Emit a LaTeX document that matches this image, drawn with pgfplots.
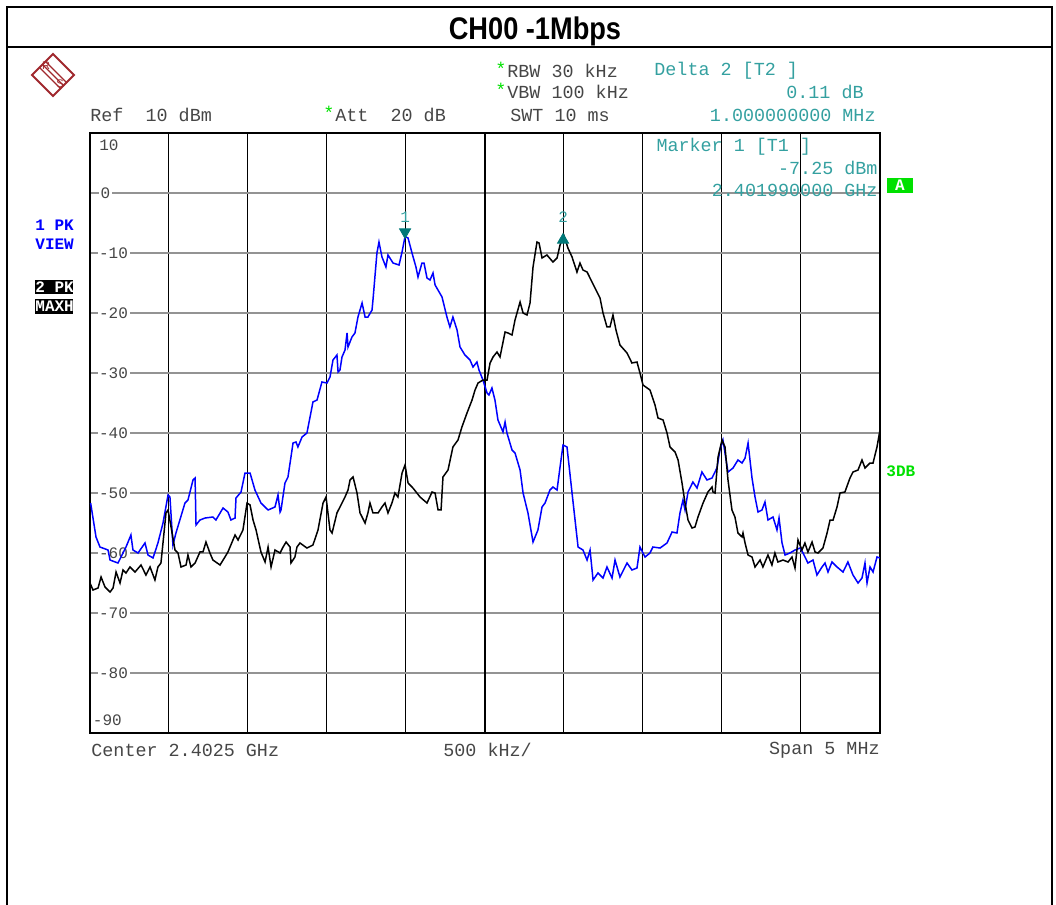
\documentclass[border=0pt]{standalone}
\usepackage{pgfplots}
\pgfplotsset{compat=1.18}
\usepackage{fontspec}
\newfontfamily\mono{Liberation Mono}
\newfontfamily\sans{Liberation Sans}
\definecolor{tealtxt}{RGB}{52,160,160}
\definecolor{tealmk}{RGB}{0,120,120}
\definecolor{lblgray}{RGB}{70,70,70}
\definecolor{rsred}{RGB}{160,40,45}
\definecolor{grn}{RGB}{0,225,0}
\newcommand{\mtext}{\mono\fontsize{9.2}{10}\selectfont}
\newcommand{\stext}{\mono\fontsize{8}{9}\selectfont}

\begin{document}
\begin{tikzpicture}
\begin{scope}[x=0.5pt,y=-0.5pt]
\path[use as bounding box] (0,0) rectangle (1056,905);
% outer frame and title band
\draw[line width=1pt] (7,905) -- (7,7) -- (1052,7) -- (1052,905);
\draw[line width=1pt] (7,47) -- (1052,47);
\node[font=\sans\bfseries\fontsize{13.6}{15}\selectfont, yscale=1.15] at (535,31) {CH00 -1Mbps};
% R&S logo
\draw[rsred, line width=0.9pt] (53,54) -- (74,75) -- (53,96) -- (32,75) -- cycle;
\draw[rsred, line width=0.6pt] (46,62) -- (67,83) (43,65) -- (64,86) (40,68) -- (61,89);
\node[rsred, font=\sans\fontsize{5.5}{6}\selectfont] at (46,66) {R};
\node[rsred, font=\sans\fontsize{5.5}{6}\selectfont] at (60,84) {S};
% header texts
\node[grn, font=\mtext, inner sep=0] at (501,69) {*};
\node[lblgray, font=\mtext, anchor=west, inner sep=0] at (507,71) {RBW 30 kHz};
\node[grn, font=\mtext, inner sep=0] at (501,90) {*};
\node[lblgray, font=\mtext, anchor=west, inner sep=0] at (507,92) {VBW 100 kHz};
\node[tealtxt, font=\mtext, anchor=west, inner sep=0] at (654,71) {Delta 2 [T2 ]};
\node[tealtxt, font=\mtext, anchor=east, inner sep=0] at (864,92) {0.11 dB};
\node[lblgray, font=\mtext, anchor=west, inner sep=0] at (90,115) {Ref\ \ 10 dBm};
\node[grn, font=\mtext, inner sep=0] at (329,113) {*};
\node[lblgray, font=\mtext, anchor=west, inner sep=0] at (335,115) {Att\ \ 20 dB};
\node[lblgray, font=\mtext, anchor=west, inner sep=0] at (510,115) {SWT 10 ms};
\node[tealtxt, font=\mtext, anchor=east, inner sep=0] at (876,115) {1.000000000 MHz};
% left trace labels
\node[blue, font=\stext\bfseries, anchor=west, inner sep=0] at (35,225) {1 PK};
\node[blue, font=\stext\bfseries, anchor=west, inner sep=0] at (35,244) {VIEW};
\fill[black] (35,280) rectangle (73,294);
\node[white, font=\stext\bfseries, anchor=west, inner sep=0] at (35,287) {2 PK};
\fill[black] (35,299) rectangle (73,314);
\node[white, font=\stext\bfseries, anchor=west, inner sep=0] at (35,306) {MAXH};
% right side flags
\fill[grn] (887,178) rectangle (913,193);
\node[white, font=\stext\bfseries, inner sep=0] at (900,185) {A};
\node[grn, font=\stext\bfseries, anchor=west, inner sep=0] at (886,471) {3DB};
% bottom texts
\node[lblgray, font=\mtext, anchor=west, inner sep=0] at (91,750) {Center 2.4025 GHz};
\node[lblgray, font=\mtext, anchor=west, inner sep=0] at (443,750) {500 kHz/};
\node[lblgray, font=\mtext, anchor=east, inner sep=0] at (880,750) {Span 5 MHz};
\end{scope}

\begin{axis}[
  at={(45pt,-366.5pt)}, anchor=south west,
  width=395pt, height=300pt, scale only axis,
  xmin=0, xmax=5, ymin=-90, ymax=10,
  xtick={0,0.5,...,5}, ytick={-90,-80,...,10},
  xticklabels={}, yticklabels={},
  major tick length=0pt,
  grid=major,
  x grid style={black, line width=0.5pt},
  y grid style={gray!85, line width=0.8pt},
  axis line style={line width=1.4pt},
  clip=true,
]
\draw[line width=1pt] (axis cs:2.5,-90) -- (axis cs:2.5,10);
% y level labels
\node[lblgray, font=\stext, anchor=west, inner sep=0.5pt] at (axis cs:0.05,8) {10};
\node[lblgray, font=\stext, anchor=west, fill=white, inner sep=0.8pt] at (axis cs:0.055,0) {0};
\node[lblgray, font=\stext, anchor=west, fill=white, inner sep=0.8pt] at (axis cs:0.045,-10) {-10};
\node[lblgray, font=\stext, anchor=west, fill=white, inner sep=0.8pt] at (axis cs:0.045,-20) {-20};
\node[lblgray, font=\stext, anchor=west, fill=white, inner sep=0.8pt] at (axis cs:0.045,-30) {-30};
\node[lblgray, font=\stext, anchor=west, fill=white, inner sep=0.8pt] at (axis cs:0.045,-40) {-40};
\node[lblgray, font=\stext, anchor=west, fill=white, inner sep=0.8pt] at (axis cs:0.045,-50) {-50};
\node[lblgray, font=\stext, anchor=west, fill=white, inner sep=0.8pt] at (axis cs:0.045,-60) {-60};
\node[lblgray, font=\stext, anchor=west, fill=white, inner sep=0.8pt] at (axis cs:0.045,-70) {-70};
\node[lblgray, font=\stext, anchor=west, fill=white, inner sep=0.8pt] at (axis cs:0.045,-80) {-80};
\node[lblgray, font=\stext, anchor=west, inner sep=0.5pt] at (axis cs:0.01,-87.8) {-90};
% marker readout
\node[tealtxt, font=\mtext, anchor=west, inner sep=0] at (axis cs:3.583,7.67) {Marker 1 [T1 ]};
\node[tealtxt, font=\mtext, anchor=east, inner sep=0] at (axis cs:4.987,4.17) {-7.25 dBm};
\node[tealtxt, font=\mtext, anchor=east, inner sep=0] at (axis cs:4.987,0.5) {2.401990000 GHz};

% trace 1: PK VIEW (blue)
\addplot[blue, line width=0.75pt] coordinates {
(0.004,-51.67)(0.038,-57.33)(0.063,-59.0)(0.114,-59.5)(0.127,-61.17)(0.177,-61.67)(0.196,-60.67)
(0.228,-59.0)(0.259,-57.0)(0.272,-59.5)(0.304,-60.0)(0.348,-58.33)(0.367,-60.33)(0.399,-60.83)
(0.430,-58.33)(0.462,-55.0)(0.494,-50.33)(0.506,-50.67)(0.525,-58.67)(0.544,-56.67)(0.601,-51.67)
(0.620,-51.17)(0.652,-47.83)(0.665,-47.5)(0.671,-55.33)(0.696,-54.5)(0.728,-54.17)(0.778,-54.0)
(0.797,-54.5)(0.842,-52.5)(0.873,-53.17)(0.892,-54.5)(0.918,-54.17)(0.924,-50.83)(0.956,-49.83)
(0.981,-46.67)(1.013,-46.67)(1.044,-49.5)(1.082,-51.67)(1.127,-52.83)(1.171,-52.33)(1.190,-50.33)
(1.203,-53.17)(1.209,-52.83)(1.234,-48.33)(1.253,-47.33)(1.272,-44.0)(1.285,-41.67)(1.304,-41.5)
(1.316,-42.33)(1.342,-40.67)(1.373,-40.0)(1.405,-35.67)(1.411,-34.83)(1.437,-34.5)(1.468,-31.5)
(1.500,-31.67)(1.519,-30.67)(1.538,-27.83)(1.563,-27.0)(1.570,-29.83)(1.582,-29.5)(1.595,-27.33)
(1.614,-26.17)(1.627,-23.33)(1.633,-25.67)(1.658,-24.0)(1.677,-23.33)(1.696,-20.67)(1.722,-18.33)
(1.741,-20.67)(1.759,-20.67)(1.785,-19.5)(1.791,-17.83)(1.816,-10.0)(1.829,-8.17)(1.848,-10.67)
(1.873,-12.33)(1.886,-10.33)(1.918,-11.67)(1.956,-12.0)(1.975,-9.83)(1.994,-7.25)(2.013,-7.5)
(2.038,-10.0)(2.063,-12.33)(2.076,-14.0)(2.101,-11.67)(2.114,-11.67)(2.133,-14.17)(2.152,-14.5)
(2.171,-13.33)(2.184,-15.33)(2.228,-17.33)(2.259,-20.67)(2.278,-22.33)(2.297,-20.67)(2.323,-22.83)
(2.342,-25.67)(2.373,-27.0)(2.405,-27.83)(2.424,-29.0)(2.449,-28.17)(2.462,-29.5)(2.487,-31.17)
(2.513,-33.33)(2.525,-33.67)(2.544,-32.5)(2.563,-34.5)(2.582,-37.83)(2.614,-39.83)(2.627,-38.17)
(2.639,-40.0)(2.671,-42.83)(2.690,-43.33)(2.722,-46.17)(2.741,-50.0)(2.772,-53.33)(2.804,-58.17)
(2.835,-56.17)(2.861,-52.33)(2.880,-51.67)(2.911,-49.5)(2.930,-49.0)(2.956,-49.5)(2.975,-45.67)
(2.994,-42.0)(3.019,-42.33)(3.051,-50.0)(3.070,-54.5)(3.089,-59.0)(3.120,-59.5)(3.146,-61.17)
(3.165,-59.5)(3.184,-64.5)(3.215,-63.33)(3.247,-64.17)(3.272,-62.33)(3.304,-64.17)(3.323,-61.17)
(3.354,-64.0)(3.399,-61.67)(3.430,-62.83)(3.462,-62.5)(3.481,-59.0)(3.513,-60.67)(3.544,-60.0)
(3.563,-59.0)(3.608,-59.17)(3.652,-58.33)(3.684,-56.5)(3.715,-56.67)(3.734,-53.33)(3.753,-51.17)
(3.766,-52.83)(3.785,-49.83)(3.816,-48.17)(3.842,-49.17)(3.873,-46.5)(3.905,-47.83)(3.937,-47.5)
(3.968,-45.83)(3.987,-42.83)(4.006,-41.17)(4.019,-43.33)(4.038,-46.5)(4.070,-45.83)(4.101,-44.5)
(4.127,-45.0)(4.146,-44.17)(4.165,-41.67)(4.190,-47.5)(4.209,-50.67)(4.228,-53.17)(4.253,-52.83)
(4.272,-51.5)(4.291,-54.5)(4.323,-54.0)(4.348,-56.17)(4.361,-54.17)(4.380,-58.33)(4.399,-60.33)
(4.430,-60.0)(4.462,-59.5)(4.494,-59.17)(4.513,-60.0)(4.544,-61.67)(4.576,-61.17)(4.601,-63.67)
(4.633,-62.33)(4.652,-61.67)(4.671,-63.17)(4.696,-61.5)(4.728,-62.33)(4.766,-63.17)(4.797,-61.5)
(4.829,-63.67)(4.861,-65.0)(4.886,-64.17)(4.905,-61.67)(4.918,-65.0)(4.937,-62.33)(4.956,-63.17)
(4.981,-60.67)(5.0,-60.83)
};

% trace 2: PK MAXH (black)
\addplot[black, line width=0.75pt] coordinates {
(0,-65.0)(0.019,-66.17)(0.051,-65.83)(0.070,-64.0)(0.095,-65.67)(0.127,-66.5)(0.146,-65.83)
(0.165,-63.17)(0.190,-65.0)(0.209,-62.83)(0.228,-63.33)(0.253,-62.33)(0.285,-63.17)(0.323,-62.0)
(0.354,-63.67)(0.380,-62.33)(0.411,-64.5)(0.430,-62.33)(0.449,-61.67)(0.462,-58.33)(0.481,-53.33)
(0.494,-52.83)(0.513,-55.67)(0.538,-59.5)(0.557,-60.0)(0.576,-62.33)(0.608,-62.0)(0.620,-60.33)
(0.639,-62.33)(0.665,-61.67)(0.696,-59.83)(0.715,-59.83)(0.734,-58.17)(0.759,-60.0)(0.778,-61.17)
(0.823,-62.0)(0.854,-60.67)(0.873,-59.83)(0.918,-57.0)(0.937,-57.83)(0.968,-56.17)(0.994,-51.67)
(1.013,-52.0)(1.032,-54.5)(1.051,-56.17)(1.082,-59.83)(1.108,-61.5)(1.127,-59.0)(1.146,-62.33)
(1.171,-59.5)(1.203,-60.0)(1.222,-59.0)(1.241,-58.17)(1.266,-59.0)(1.272,-61.67)(1.297,-60.67)
(1.310,-59.0)(1.329,-58.33)(1.373,-59.17)(1.411,-58.67)(1.443,-56.17)(1.475,-51.67)(1.494,-50.67)
(1.519,-56.17)(1.532,-56.67)(1.563,-53.33)(1.614,-50.67)(1.633,-49.5)(1.646,-47.83)(1.665,-47.33)
(1.690,-50.0)(1.709,-53.33)(1.741,-55.0)(1.759,-53.33)(1.772,-51.67)(1.791,-53.33)(1.823,-53.33)
(1.848,-52.33)(1.867,-51.67)(1.886,-53.33)(1.911,-51.67)(1.930,-50.0)(1.949,-50.67)(1.975,-46.67)
(1.994,-45.33)(2.013,-48.33)(2.044,-49.17)(2.089,-50.67)(2.133,-51.67)(2.165,-49.83)(2.184,-50.0)
(2.203,-52.83)(2.222,-52.83)(2.234,-47.33)(2.266,-46.17)(2.297,-42.33)(2.329,-41.17)(2.354,-39.0)
(2.386,-36.67)(2.418,-34.5)(2.437,-32.83)(2.456,-31.67)(2.487,-31.17)(2.513,-31.17)(2.532,-28.33)
(2.551,-27.33)(2.576,-26.5)(2.595,-27.33)(2.627,-23.17)(2.646,-23.33)(2.671,-23.67)(2.690,-21.17)
(2.722,-18.17)(2.741,-20.0)(2.766,-20.33)(2.785,-18.33)(2.804,-12.33)(2.829,-8.17)(2.842,-8.33)
(2.861,-10.83)(2.892,-10.33)(2.930,-11.5)(2.956,-10.83)(2.975,-8.67)(3.0,-7.14)(3.025,-9.17)
(3.051,-10.67)(3.082,-13.17)(3.101,-11.67)(3.120,-12.83)(3.146,-13.17)(3.171,-14.5)(3.196,-15.83)
(3.228,-17.5)(3.247,-20.0)(3.272,-22.33)(3.291,-22.33)(3.310,-20.33)(3.329,-22.83)(3.354,-25.33)
(3.399,-26.67)(3.430,-28.33)(3.462,-28.17)(3.481,-30.0)(3.500,-32.0)(3.544,-32.83)(3.576,-35.33)
(3.595,-37.5)(3.627,-37.83)(3.652,-40.0)(3.671,-42.33)(3.703,-43.17)(3.722,-44.5)(3.747,-48.33)
(3.766,-51.67)(3.785,-54.5)(3.810,-55.83)(3.829,-55.67)(3.848,-54.0)(3.880,-51.67)(3.911,-49.83)
(3.937,-49.0)(3.943,-49.83)(3.956,-50.0)(3.975,-44.0)(4.000,-41.17)(4.019,-42.33)(4.038,-47.83)
(4.063,-52.83)(4.082,-54.0)(4.101,-56.67)(4.127,-57.33)(4.133,-56.67)(4.146,-58.33)(4.165,-60.33)
(4.190,-60.67)(4.209,-62.33)(4.241,-61.17)(4.259,-62.33)(4.291,-60.33)(4.316,-62.0)(4.335,-60.0)
(4.354,-61.5)(4.386,-61.17)(4.418,-61.5)(4.443,-60.67)(4.462,-62.5)(4.481,-57.83)(4.506,-59.5)
(4.525,-58.33)(4.544,-59.83)(4.570,-58.17)(4.589,-59.83)(4.608,-60.0)(4.639,-59.17)(4.665,-56.67)
(4.684,-54.5)(4.703,-54.5)(4.728,-52.33)(4.747,-50.0)(4.778,-49.83)(4.810,-47.5)(4.829,-46.5)
(4.861,-46.17)(4.886,-44.5)(4.905,-45.83)(4.937,-45.0)(4.956,-45.0)(4.981,-42.33)(5.0,-39.5)
};

% markers
\addplot[only marks, mark=triangle*, mark size=3.2pt, color=tealmk,
  mark options={rotate=180}] coordinates {(1.994,-6.5)};
\addplot[only marks, mark=triangle*, mark size=3.2pt, color=tealmk] coordinates {(2.994,-7.83)};
\node[tealtxt, font=\stext, inner sep=0] at (axis cs:1.994,-4) {1};
\node[tealtxt, font=\stext, inner sep=0] at (axis cs:2.994,-4) {2};
\end{axis}
\end{tikzpicture}
\end{document}
